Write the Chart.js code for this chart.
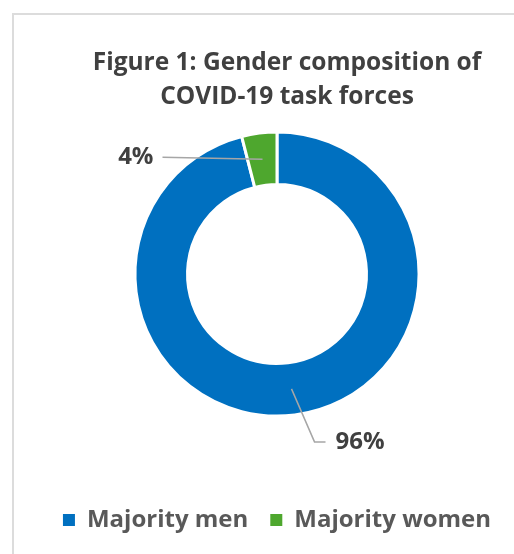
<!DOCTYPE html>
<html>
<head>
<meta charset="utf-8">
<script src="https://cdn.jsdelivr.net/npm/chart.js@4"></script>
<style>
  html, body { margin: 0; padding: 0; background: #fff; overflow: hidden; }
  .frame {
    position: absolute; left: 12px; top: 13px;
    width: 560px; height: 600px;
    border-left: 2px solid #dcdcdc; border-top: 2px solid #dcdcdc;
  }
  .wrap { position: absolute; left: 0; top: 0; width: 514px; height: 554px; }
</style>
</head>
<body>
<div class="frame"></div>
<div class="wrap"><canvas id="chart_1"></canvas></div>
<script>
const categorias = ['Majority men', 'Majority women'];
const percentuais = [96, 4];
const cores = ['#0070C0', '#4EA72E'];
const titulo = ['Figure 1: Gender composition of', 'COVID-19 task forces'];

// leader lines: dx/dy from the slice centroid to the elbow, then a short tail
const chamadas = [
  { elbow: [23, 53], tail: 11, gap: 10, side: 'right' },
  { elbow: [-100, -2], tail: 0, gap: 9, side: 'left' }
];

const rotulos = {
  id: 'rotulos',
  afterDatasetsDraw(chart) {
    const ctx = chart.ctx;
    const meta = chart.getDatasetMeta(0);
    ctx.save();
    ctx.font = 'bold 24px "Open Sans"';
    ctx.textBaseline = 'middle';
    meta.data.forEach((arc, i) => {
      const c = chamadas[i];
      const p = arc.tooltipPosition();
      const ex = p.x + c.elbow[0];
      const ey = p.y + c.elbow[1];
      const dir = c.side === 'right' ? 1 : -1;
      const tx = ex + dir * c.tail;
      ctx.strokeStyle = '#a6a6a6';
      ctx.lineWidth = 1.5;
      ctx.beginPath();
      ctx.moveTo(p.x, p.y);
      ctx.lineTo(ex, ey);
      ctx.lineTo(tx, ey);
      ctx.stroke();
      ctx.fillStyle = '#404040';
      ctx.textAlign = c.side === 'right' ? 'left' : 'right';
      ctx.fillText(percentuais[i] + '%', tx + dir * c.gap, ey);
    });
    ctx.restore();
  }
};

// the title sits a little right of the doughnut's centre
const deslocaTitulo = {
  id: 'deslocaTitulo',
  afterLayout(chart) {
    const t = chart.titleBlock;
    if (t) { t.left += 10; t.right += 10; }
  }
};

// legend squares without the white slice border
const geraLegenda = (chart) =>
  Chart.overrides.doughnut.plugins.legend.labels.generateLabels(chart)
    .map(item => ({ ...item, lineWidth: 0 }));

const ctx = document.getElementById('chart_1');
new Chart(ctx, {
  type: 'doughnut',
  data: {
    labels: categorias,
    datasets: [{
      data: percentuais,
      backgroundColor: cores,
      borderColor: '#ffffff',
      borderWidth: 3
    }]
  },
  options: {
    responsive: true,
    maintainAspectRatio: false,
    animation: false,
    cutout: '63%',
    layout: { padding: { top: 46, left: 40, right: 0, bottom: 12 } },
    plugins: {
      tooltip: { enabled: false },
      title: {
        display: true,
        text: titulo,
        color: '#404040',
        font: { family: 'Open Sans', size: 24.5, weight: 'bold', lineHeight: 34 / 24.5 },
        padding: { top: 0, bottom: 16.5 }
      },
      legend: {
        position: 'bottom',
        title: {
          display: true,
          text: ' ',
          font: { size: 12 },
          padding: { top: 54, bottom: 0 }
        },
        labels: {
          boxWidth: 12,
          boxHeight: 12,
          padding: 22,
          color: '#595959',
          font: { family: 'Open Sans', size: 24, weight: 'bold' },
          generateLabels: geraLegenda
        }
      }
    }
  },
  plugins: [rotulos, deslocaTitulo]
});
</script>
</body>
</html>
